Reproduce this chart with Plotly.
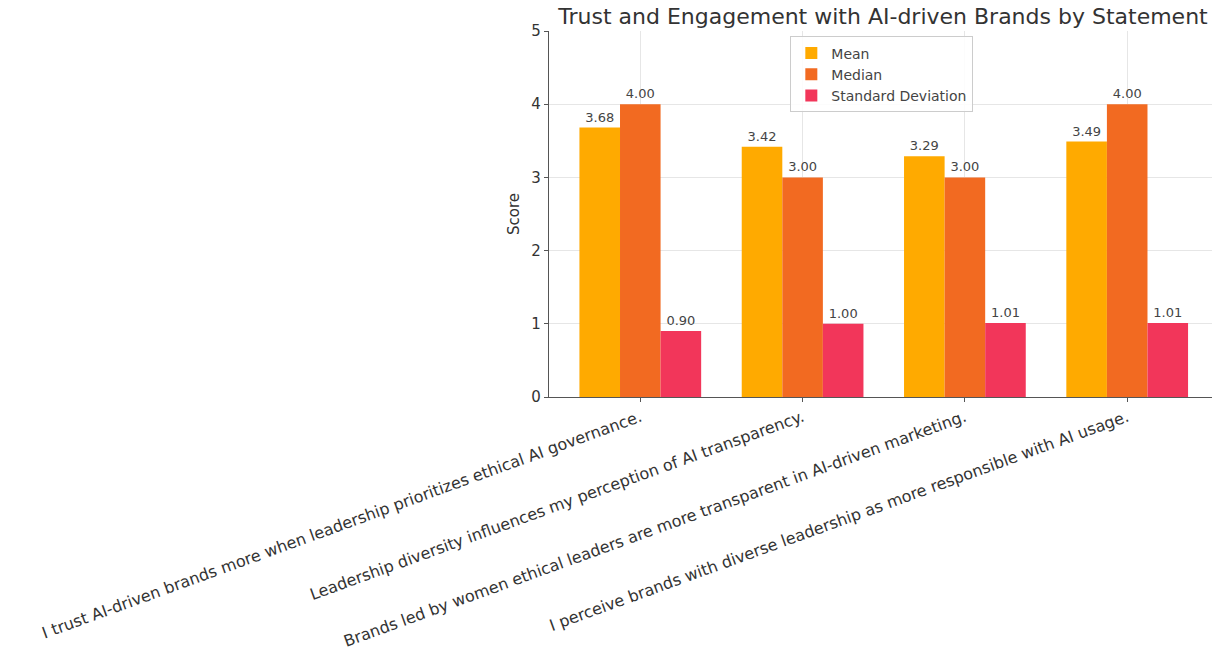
import plotly.graph_objects as go

# Survey statements (x categories)
statements = [
    "I trust AI-driven brands more when leadership prioritizes ethical AI governance.",
    "Leadership diversity influences my perception of AI transparency.",
    "Brands led by women ethical leaders are more transparent in AI-driven marketing.",
    "I perceive brands with diverse leadership as more responsible with AI usage.",
]

# Summary statistics per statement
mean_scores = [3.68, 3.42, 3.29, 3.49]
median_scores = [4.00, 3.00, 3.00, 4.00]
std_scores = [0.90, 1.00, 1.01, 1.01]

series_names = ["Mean", "Median", "Standard Deviation"]
series_colors = ["#FFAA00", "#F26A21", "#F2365A"]

FONT = "DejaVu Sans"

fig = go.Figure()
for name, values, color in zip(series_names,
                               [mean_scores, median_scores, std_scores],
                               series_colors):
    fig.add_trace(go.Bar(
        x=statements,
        y=values,
        name=name,
        marker=dict(color=color, line=dict(width=0)),
        texttemplate="%{y:.2f}",
        textposition="outside",
        textfont=dict(family=FONT, size=13, color="#444444"),
        cliponaxis=False,
    ))

fig.update_layout(
    width=1212,
    height=650,
    margin=dict(l=549, r=0, t=31, b=253, autoexpand=False),
    paper_bgcolor="white",
    plot_bgcolor="white",
    barmode="group",
    bargap=0.25,
    bargroupgap=0,
    font=dict(family=FONT, size=13, color="#333333"),
    title=dict(
        text="Trust and Engagement with AI-driven Brands by Statement",
        x=883 / 1212,
        xanchor="center",
        xref="container",
        y=1 - 16 / 650,
        yanchor="middle",
        yref="container",
        font=dict(family=FONT, size=22, color="#333333"),
    ),
    legend=dict(
        x=0.502,
        xanchor="center",
        y=0.985,
        yanchor="top",
        bgcolor="rgba(255,255,255,0.85)",
        bordercolor="#cccccc",
        borderwidth=1,
        font=dict(family=FONT, size=14, color="#444444"),
        traceorder="normal",
        tracegroupgap=0,
    ),
    xaxis=dict(
        type="category",
        range=[-0.5625, 3.5225],
        tickangle=-20,
        tickfont=dict(family=FONT, size=16, color="#333333"),
        ticks="outside",
        ticklen=4,
        tickcolor="#555555",
        showline=True,
        linecolor="#555555",
        linewidth=1.2,
        showgrid=True,
        gridcolor="#e6e6e6",
        automargin=False,
    ),
    yaxis=dict(
        range=[0, 5],
        dtick=1,
        tickfont=dict(family=FONT, size=15, color="#333333"),
        ticks="outside",
        ticklen=4,
        tickcolor="#555555",
        showline=True,
        linecolor="#555555",
        linewidth=1.2,
        showgrid=True,
        gridcolor="#e6e6e6",
        zeroline=False,
        title=dict(text="Score", standoff=8,
                   font=dict(family=FONT, size=15, color="#333333")),
        automargin=False,
    ),
)

fig.write_html("out.html")
